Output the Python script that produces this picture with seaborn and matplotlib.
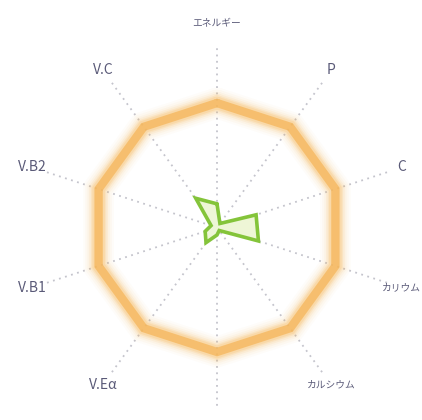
import numpy as np
import pandas as pd
import matplotlib
matplotlib.use("Agg")
import matplotlib.pyplot as plt
import seaborn as sns

# ---- data ----
categories = ["エネルギー", "P", "C", "カリウム", "カルシウム", "", "V.Eα", "V.B1", "V.B2", "V.C"]
values = [0.19, 0.04, 0.33, 0.35, 0.03, 0.06, 0.15, 0.10, 0.05, 0.29]
standard = [1.0] * 10

sns.set_theme(style="white")
plt.rcParams['font.family'] = ['Noto Sans CJK JP', 'DejaVu Sans']

W, H = 422, 420
fig = plt.figure(figsize=(W / 100, H / 100), dpi=100)
fig.patch.set_facecolor("white")

rmax = 1.6
R_px = 124.5
cx, cy = 217, 227.5
size = R_px * rmax * 2
ax = fig.add_axes([(cx - size / 2) / W, ((H - cy) - size / 2) / H, size / W, size / H],
                  projection="polar")
ax.set_theta_offset(np.pi / 2)
ax.set_theta_direction(-1)
ax.set_ylim(0, rmax)
ax.set_axis_off()

n = len(categories)
theta = np.arange(n) * 2 * np.pi / n
theta_closed = np.append(theta, 2 * np.pi)

# dotted spokes
for t in theta:
    ax.plot([t, t], [0, 1.45], color="#c4c4cc", lw=1.3, ls=(0, (1, 2.5)), zorder=1)

# glowing standard decagon
df_std = pd.DataFrame({"theta": theta_closed, "r": standard + [standard[0]]})
for lw, a in [(22, 0.04), (19, 0.06), (16, 0.08), (13.5, 0.12), (11, 0.18), (9, 0.25)]:
    ax.plot(df_std["theta"], df_std["r"], color="#F7BC66", lw=lw, alpha=a,
            solid_joinstyle="miter", zorder=2)
sns.lineplot(data=df_std, x="theta", y="r", sort=False, estimator=None, ax=ax,
             color="#F6B65A", lw=6, alpha=0.75, zorder=3)
ax.lines[-1].set_solid_joinstyle("miter")

# data polygon
df_val = pd.DataFrame({"theta": theta_closed, "r": values + [values[0]]})
ax.fill(df_val["theta"], df_val["r"], color="#EEF6D6", zorder=4)
sns.lineplot(data=df_val, x="theta", y="r", sort=False, estimator=None, ax=ax,
             color="#84C43A", lw=2.6, zorder=5)
ax.lines[-1].set_solid_joinstyle("miter")
ax.set_xlabel("")
ax.set_ylabel("")

# labels
for t, lab in zip(theta, categories):
    if not lab:
        continue
    is_kana = any(ord(ch) > 0x3000 for ch in lab)
    r = 1.64 if lab == "エネルギー" else 1.56
    ax.text(t, r, lab, ha="center", va="center", color="#5a5a78",
            fontsize=7 if is_kana else 10)

fig.savefig("out.png", dpi=100, facecolor="white")
